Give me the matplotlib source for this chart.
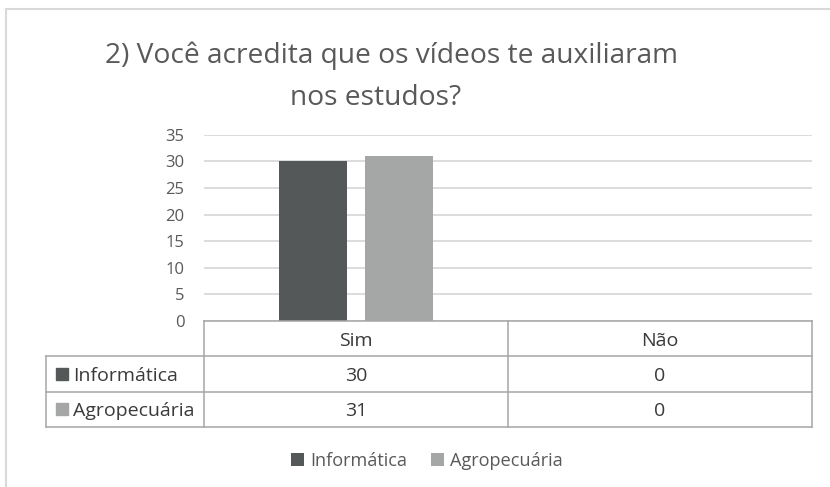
import matplotlib
matplotlib.use("Agg")
import matplotlib.pyplot as plt
from matplotlib.lines import Line2D
from matplotlib.patches import Patch
import matplotlib.transforms as mtransforms

# ---- data ----
categories = ["Sim", "Não"]
series_names = ["Informática", "Agropecuária"]
informatica = [30, 0]
agropecuaria = [31, 0]
y_ticks = [0, 5, 10, 15, 20, 25, 30, 35]
title_lines = ["2) Você acredita que os vídeos te auxiliaram", "nos estudos?"]

colors = ["#555858", "#A5A7A7"]
series = [informatica, agropecuaria]

plt.rcParams['font.family'] = ['Open Sans', 'DejaVu Sans']

W, H = 830, 487
fig = plt.figure(figsize=(W / 100, H / 100), dpi=100)
renderer = fig.canvas.get_renderer()


def fit_size(text, target_px, base=12.0):
    t = fig.text(0, 0, text, fontsize=base)
    w = t.get_window_extent(renderer=renderer).width
    t.remove()
    return base * target_px / w


def fx(px):
    return px / W


def fy(py):
    return 1 - py / H


title_fs = fit_size(title_lines[0], 571)
table_fs = fit_size(series_names[0], 104)
legend_fs = fit_size(series_names[0], 97)
tick_fs = fit_size("35", 19)

# chart frame (light border)
fig.add_artist(Line2D([fx(6), 1], [fy(9), fy(9)], color="#D9D9D9", lw=1.5))
fig.add_artist(Line2D([fx(6), fx(6)], [fy(9), 0], color="#D9D9D9", lw=1.5))

# title
fig.text(fx(391), fy(63), title_lines[0], ha="center", va="baseline",
         fontsize=title_fs, color="#595959")
fig.text(fx(376), fy(105), title_lines[1], ha="center", va="baseline",
         fontsize=title_fs, color="#595959")

# main plot axes
L, R, T, B = 204, 812, 134.7, 321
ax = fig.add_axes([fx(L), fy(B), fx(R - L), (B - T) / H])
x = list(range(len(categories)))
bw = 0.224
gap = 0.059
offs = [-(bw + gap) / 2, (bw + gap) / 2]
bars = []
for i, (vals, c) in enumerate(zip(series, colors)):
    b = ax.bar([xi + offs[i] for xi in x], vals, width=bw, color=c, zorder=3,
               label=series_names[i])
    bars.append(b)
ax.set_xlim(-0.5, len(categories) - 0.5)
ax.set_ylim(0, 35)
ax.set_yticks(y_ticks)
ax.set_yticklabels([str(t) for t in y_ticks], fontsize=tick_fs, color="#595959")
ax.tick_params(axis="y", length=0, pad=14)
ax.tick_params(axis="x", length=0, labelbottom=False)
ax.grid(axis="y", color="#D9D9D9", lw=1.3, zorder=0)
for s in ax.spines.values():
    s.set_visible(False)
ax.set_facecolor("none")

# data table axes (same x scale as main axes)
TL, TB = 46, 427
tax = fig.add_axes([fx(TL), fy(TB), fx(R - TL), (TB - B) / H])
ppu = (R - L) / len(categories)
xl = -0.5 - (L - TL) / ppu
tax.set_xlim(xl, len(categories) - 0.5)
tax.set_ylim(3, 0)
tax.axis("off")
tc = "#A6A6A6"
lw = 1.1
tax.plot([-0.5, len(categories) - 0.5], [0, 0], color=tc, lw=lw, clip_on=False)
for yy in [1, 2, 3]:
    tax.plot([xl, len(categories) - 0.5], [yy, yy], color=tc, lw=lw, clip_on=False)
for xx in [-0.5 + k for k in range(len(categories) + 1)]:
    tax.plot([xx, xx], [0, 3], color=tc, lw=lw, clip_on=False)
tax.plot([xl, xl], [1, 3], color=tc, lw=lw, clip_on=False)

# baseline shifted so that capitals are centred in each row
cap_shift = 0.36 * table_fs  # points
tr = mtransforms.offset_copy(tax.transData, fig=fig, x=0, y=-cap_shift, units="points")
tcol = "#3A3A3A"
for i, cat in enumerate(categories):
    tax.text(i, 0.5, cat, ha="center", va="baseline", fontsize=table_fs,
             color=tcol, transform=tr)
for r, (name, vals, c) in enumerate(zip(series_names, series, colors)):
    yrow = r + 1.5
    sq_x = xl + (62 - TL) / ppu
    tax.plot([sq_x], [yrow], marker="s", markersize=9, color=c, clip_on=False)
    tax.text(xl + (73 - TL) / ppu, yrow, name, ha="left", va="baseline",
             fontsize=table_fs, color=tcol, transform=tr)
    for i, v in enumerate(vals):
        tax.text(i, yrow, str(v), ha="center", va="baseline", fontsize=table_fs,
                 color=tcol, transform=tr)

# legend
handles = [Patch(facecolor=c, edgecolor="none") for c in colors]
fig.legend(handles=handles, labels=series_names, loc="center",
           bbox_to_anchor=(fx(427), fy(461)), ncol=2, frameon=False,
           fontsize=legend_fs, labelcolor="#595959", handlelength=0.7,
           handleheight=0.7, handletextpad=0.35, columnspacing=1.3)

fig.savefig("out.png", dpi=100)
